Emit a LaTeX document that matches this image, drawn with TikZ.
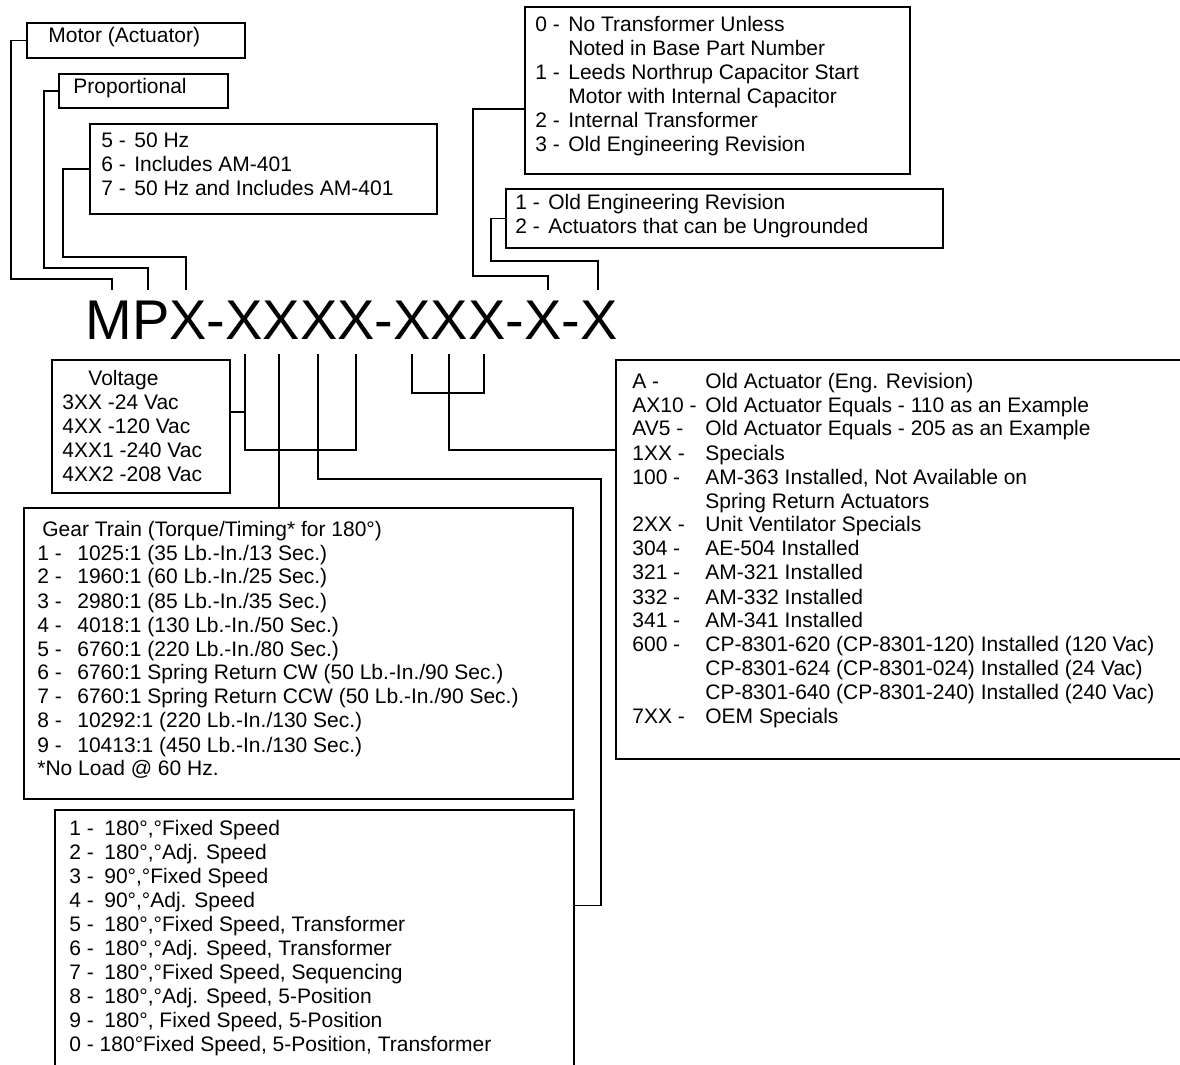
\documentclass[tikz,border=0pt]{standalone}
\usepackage{fontspec}
\setmainfont{Liberation Sans}
\usepackage{tikz}
\usetikzlibrary{fit}
\tikzstyle{box}=[draw,rectangle,line width=1.35pt,inner sep=0pt,outer sep=0pt]
\tikzstyle{txt}=[inner sep=0pt,anchor=base west,align=left]
\tikzstyle{partno}=[inner sep=0pt,anchor=base west,font=\fontsize{28}{30}\selectfont]
\tikzstyle{wire}=[line width=0.65pt]

\begin{document}
\begin{tikzpicture}
	[x=0.5pt,y=-0.5pt,font=\fontsize{10.5}{12}\selectfont]
	\useasboundingbox (0,0) rectangle (1180,1065);
	\clip (0,0) rectangle (1180,1065);
	% option boxes
	\node (motor) [box,fit={(27,23) (245,58)}] {};
	\node (prop) [box,fit={(59,74) (228,108)}] {};
	\node (freq) [box,fit={(90,124) (437,214)}] {};
	\node (trans) [box,fit={(525,7) (910,174)}] {};
	\node (gnd) [box,fit={(506,189) (943,248)}] {};
	\node (volt) [box,fit={(52,360) (230,493)}] {};
	\node (gear) [box,fit={(24,508) (573,799)}] {};
	\node (speed) [box,fit={(55,810) (574,1075)}] {};
	\node (spec) [box,fit={(616,360) (1190,759)}] {};
	% texts
	\node (motortxt) [txt] at (48,43) {Motor (Actuator)};
	\node (proptxt) [txt] at (73,94) {Proportional};
	\node (freqtxt) [txt] at (101,148) {\begin{tabular}[t]{@{}p{16.5pt}@{}l@{}}
		5 - & 50 Hz\\
		6 - & Includes AM-401\\
		7 - & 50 Hz and Includes AM-401
	\end{tabular}};
	\node (transtxt) [txt] at (535,32) {\begin{tabular}[t]{@{}p{16.5pt}@{}l@{}}
		0 - & No Transformer Unless\\
		    & Noted in Base Part Number\\
		1 - & Leeds Northrup Capacitor Start\\
		    & Motor with Internal Capacitor\\
		2 - & Internal Transformer\\
		3 - & Old Engineering Revision
	\end{tabular}};
	\node (gndtxt) [txt] at (515,210) {\begin{tabular}[t]{@{}p{16.5pt}@{}l@{}}
		1 - & Old Engineering Revision\\
		2 - & Actuators that can be Ungrounded
	\end{tabular}};
	\node (volttxt) [txt] at (62,386) {\begin{tabular}[t]{@{}l@{}}
		\hspace*{13pt}Voltage\\
		3XX -24 Vac\\
		4XX -120 Vac\\
		4XX1 -240 Vac\\
		4XX2 -208 Vac
	\end{tabular}};
	\node (geartxt) [txt] at (37,536) {\begin{tabular}[t]{@{}p{20pt}@{}l@{}}
		\multicolumn{2}{@{}l@{}}{\hspace*{2.5pt}Gear Train (Torque/Timing* for 180°)}\\
		1 - & 1025:1 (35 Lb.-In./13 Sec.)\\
		2 - & 1960:1 (60 Lb.-In./25 Sec.)\\
		3 - & 2980:1 (85 Lb.-In./35 Sec.)\\
		4 - & 4018:1 (130 Lb.-In./50 Sec.)\\
		5 - & 6760:1 (220 Lb.-In./80 Sec.)\\
		6 - & 6760:1 Spring Return CW (50 Lb.-In./90 Sec.)\\
		7 - & 6760:1 Spring Return CCW (50 Lb.-In./90 Sec.)\\
		8 - & 10292:1 (220 Lb.-In./130 Sec.)\\
		9 - & 10413:1 (450 Lb.-In./130 Sec.)\\
		\multicolumn{2}{@{}l@{}}{*No Load @ 60 Hz.}
	\end{tabular}};
	\node (speedtxt) [txt] at (69,835) {\begin{tabular}[t]{@{}p{17.5pt}@{}l@{}}
		1 - & 180°,°Fixed Speed\\
		2 - & 180°,°Adj. Speed\\
		3 - & 90°,°Fixed Speed\\
		4 - & 90°,°Adj. Speed\\
		5 - & 180°,°Fixed Speed, Transformer\\
		6 - & 180°,°Adj. Speed, Transformer\\
		7 - & 180°,°Fixed Speed, Sequencing\\
		8 - & 180°,°Adj. Speed, 5-Position\\
		9 - & 180°, Fixed Speed, 5-Position\\
		\multicolumn{2}{@{}l@{}}{0 - 180°Fixed Speed, 5-Position, Transformer}
	\end{tabular}};
	\node (spectxt) [txt] at (632,388) {\begin{tabular}[t]{@{}p{36.5pt}@{}l@{}}
		A -    & Old Actuator (Eng. Revision)\\
		AX10 - & Old Actuator Equals - 110 as an Example\\
		AV5 -  & Old Actuator Equals - 205 as an Example\\
		1XX -  & Specials\\
		100 -  & AM-363 Installed, Not Available on\\
		       & Spring Return Actuators\\
		2XX -  & Unit Ventilator Specials\\
		304 -  & AE-504 Installed\\
		321 -  & AM-321 Installed\\
		332 -  & AM-332 Installed\\
		341 -  & AM-341 Installed\\
		600 -  & CP-8301-620 (CP-8301-120) Installed (120 Vac)\\
		       & CP-8301-624 (CP-8301-024) Installed (24 Vac)\\
		       & CP-8301-640 (CP-8301-240) Installed (240 Vac)\\
		7XX -  & OEM Specials
	\end{tabular}};
	% part number and the places of its letters
	\node (pn) [partno] at (85,340) {MPX-XXXX-XXX-X-X};
	\coordinate (t1) at (112,290);
	\coordinate (t2) at (148,290);
	\coordinate (t3) at (186,290);
	\coordinate (t4) at (548,290);
	\coordinate (t5) at (598,290);
	\coordinate (b1) at (245,354);
	\coordinate (b2) at (279,354);
	\coordinate (b3) at (318,354);
	\coordinate (b4) at (356,354);
	\coordinate (b5) at (412,354);
	\coordinate (b6) at (449,354);
	\coordinate (b7) at (484,354);
	% leaders above
	\draw[wire] (motor.west) -| ++(-16,238.5) -| (t1);
	\draw[wire] (prop.west) -| ++(-15,177) -| (t2);
	\draw[wire] (freq.west) -| ++(-27,88) -| (t3);
	\draw[wire] ([yshift=-9.25pt]trans.west) -| ++(-52,167) -| (t4);
	\draw[wire] (gnd.west) -| ++(-15,42.5) -| (t5);
	% leaders below
	\draw[wire] (b1) |- ++(111,96) -- (b4);
	\draw[wire] ([yshift=7.25pt]volt.east) -| (b1);
	\draw[wire] (b2) -- (b2 |- gear.north);
	\draw[wire] (b3) |- ++(283,125) |- ([yshift=18.5pt]speed.east);
	\draw[wire] (b5) |- ++(72,39) -- (b7);
	\draw[wire] (b6) |- ([yshift=54.75pt]spec.west);
\end{tikzpicture}
\end{document}
